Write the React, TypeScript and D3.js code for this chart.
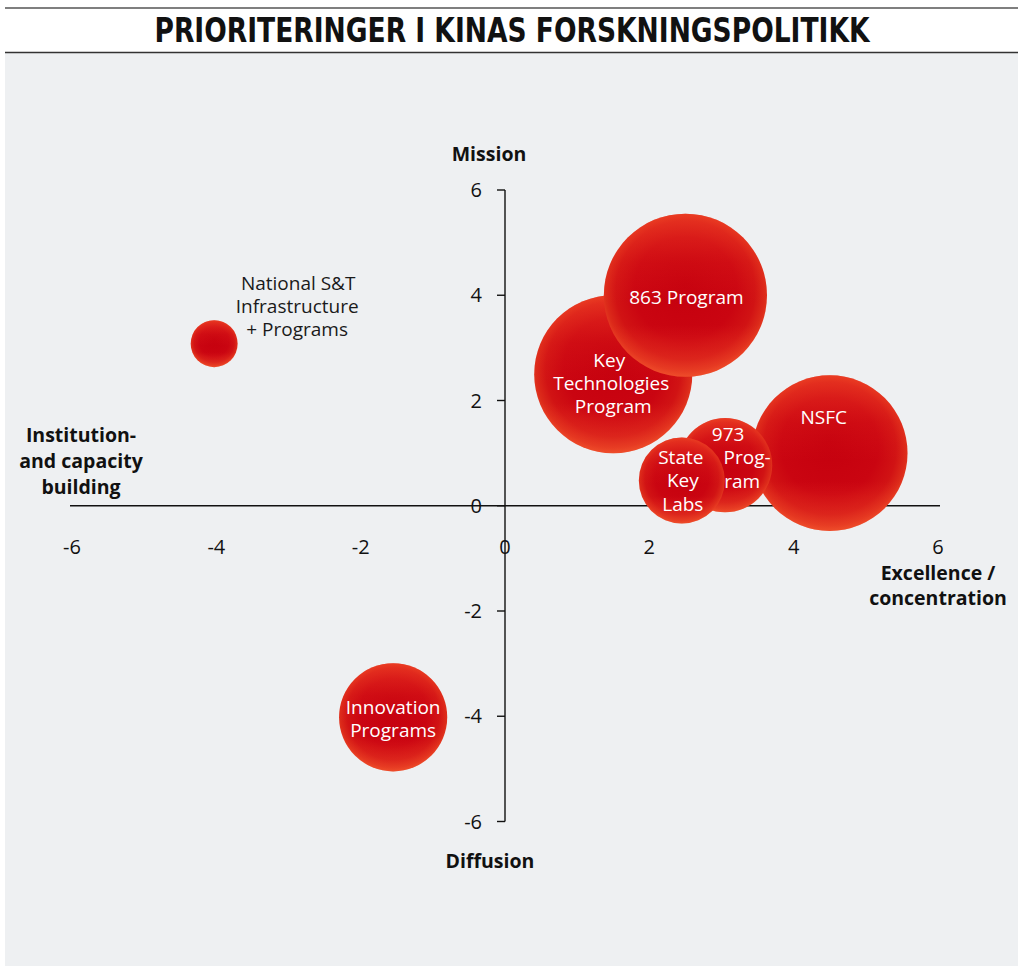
import React from "react";
import * as d3 from "d3";

const TITLE = "PRIORITERINGER I KINAS FORSKNINGSPOLITIKK";
const names = [
  "NSFC",
  "Key Technologies Program",
  "863 Program",
  "973 Program",
  "State Key Labs",
  "Innovation Programs",
  "National S&T Infrastructure + Programs",
];
const xValues = [4.5, 1.5, 2.5, 3.05, 2.45, -1.55, -4.03];
const yValues = [1.0, 2.5, 4.0, 0.77, 0.48, -4.02, 3.08];
const sizes = [90, 93, 99, 33, 27.5, 43.5, 8.2];
const xTicks = [-6, -4, -2, 0, 2, 4, 6];
const yTicks = [-6, -4, -2, 0, 2, 4, 6];

// label layout (lines, offsets from bubble center)
type Line = { t: string; dx: number; dy: number; anchor?: string };
const labelLayout: { lines: Line[]; color: string }[] = [
  { lines: [{ t: "NSFC", dx: -6, dy: -35 }], color: "#fff" },
  {
    lines: [
      { t: "Key", dx: -4, dy: -13 },
      { t: "Technologies", dx: -2, dy: 10 },
      { t: "Program", dx: 0, dy: 33 },
    ],
    color: "#fff",
  },
  { lines: [{ t: "863 Program", dx: 1, dy: 3 }], color: "#fff" },
  {
    lines: [
      { t: "973", dx: 3, dy: -30 },
      { t: "Prog-", dx: 22, dy: -7 },
      { t: "ram", dx: 17, dy: 17 },
    ],
    color: "#fff",
  },
  {
    lines: [
      { t: "State", dx: -1, dy: -22 },
      { t: "Key", dx: 1, dy: 1 },
      { t: "Labs", dx: 1, dy: 25 },
    ],
    color: "#fff",
  },
  {
    lines: [
      { t: "Innovation", dx: 0, dy: -9 },
      { t: "Programs", dx: 0, dy: 14 },
    ],
    color: "#fff",
  },
  {
    lines: [
      { t: "National S&T", dx: 84, dy: -60 },
      { t: "Infrastructure", dx: 83, dy: -37 },
      { t: "+ Programs", dx: 83, dy: -14 },
    ],
    color: "#1a1a1a",
  },
];

const W = 1024;
const H = 975;
const FONT = "'Open Sans', 'DejaVu Sans', sans-serif";

export default function App() {
  const x = d3.scaleLinear().domain([-6, 6]).range([72, 938]);
  const y = d3.scaleLinear().domain([-6, 6]).range([821.5, 190]);
  const r = d3.scaleSqrt().domain([0, 100]).range([0, 82]);

  const idx = d3.range(names.length);

  return (
    <svg
      width={W}
      height={H}
      viewBox={`0 0 ${W} ${H}`}
      style={{ position: "absolute", left: 0, top: 0, background: "#fff" }}
    >
      <defs>
        <radialGradient id="ball" cx="50%" cy="48%" r="52%" fx="50%" fy="42%">
          <stop offset="0%" stopColor="#c5000e" />
          <stop offset="60%" stopColor="#ca0511" />
          <stop offset="82%" stopColor="#d11314" />
          <stop offset="94%" stopColor="#dc2a1a" />
          <stop offset="100%" stopColor="#e63e22" />
        </radialGradient>
        <linearGradient id="shine" x1="0" y1="0" x2="0" y2="1">
          <stop offset="0%" stopColor="#ff5a30" stopOpacity={0.45} />
          <stop offset="30%" stopColor="#ff4a2a" stopOpacity={0.12} />
          <stop offset="55%" stopColor="#ff4030" stopOpacity={0} />
          <stop offset="68%" stopColor="#ff4030" stopOpacity={0} />
          <stop offset="78%" stopColor="#ff5030" stopOpacity={0.14} />
          <stop offset="100%" stopColor="#ff6a3a" stopOpacity={0.35} />
        </linearGradient>
      </defs>

      {/* background panel */}
      <rect x={5} y={53} width={1013} height={913} fill="#eef0f2" />
      <line x1={5} x2={1018} y1={8} y2={8} stroke="#555" strokeWidth={1.5} />
      <line x1={5} x2={1018} y1={52.5} y2={52.5} stroke="#333" strokeWidth={1.5} />
      <text
        x={512}
        y={42}
        textAnchor="middle"
        fontFamily="'Liberation Sans Narrow', 'DejaVu Sans Condensed', sans-serif"
        fontWeight="bold"
        fontSize={33}
        textLength={715}
        lengthAdjust="spacingAndGlyphs"
        fill="#111"
      >
        {TITLE}
      </text>

      {/* axes */}
      <line x1={70} x2={940} y1={y(0)} y2={y(0)} stroke="#111" strokeWidth={1.4} />
      <line x1={x(0)} x2={x(0)} y1={y(6)} y2={y(-6)} stroke="#111" strokeWidth={1.4} />
      {yTicks.map((t) => (
        <g key={"yt" + t}>
          <line x1={x(0) - 8} x2={x(0)} y1={y(t)} y2={y(t)} stroke="#111" strokeWidth={1.4} />
          <text
            x={x(0) - 23}
            y={y(t) + 7}
            textAnchor="end"
            fontFamily={FONT}
            fontSize={20}
            fill="#111"
          >
            {t}
          </text>
        </g>
      ))}
      {xTicks.map((t) => (
        <text
          key={"xt" + t}
          x={x(t)}
          y={554}
          textAnchor="middle"
          fontFamily={FONT}
          fontSize={20}
          fill="#111"
        >
          {t}
        </text>
      ))}

      {/* axis titles */}
      <g fontFamily={FONT} fontWeight="bold" fontSize={19.5} fill="#111" textAnchor="middle">
        <text x={489} y={161}>Mission</text>
        <text x={490} y={868}>Diffusion</text>
        <text x={938} y={580}>Excellence /</text>
        <text x={938} y={605}>concentration</text>
        <text x={81} y={442}>Institution-</text>
        <text x={81} y={468}>and capacity</text>
        <text x={81} y={494}>building</text>
      </g>

      {/* bubbles */}
      {idx.map((i) => (
        <g key={"b" + i}>
          <circle cx={x(xValues[i])} cy={y(yValues[i])} r={r(sizes[i])} fill="url(#ball)" />
          <circle cx={x(xValues[i])} cy={y(yValues[i])} r={r(sizes[i])} fill="url(#shine)" />
        </g>
      ))}

      {/* labels */}
      {idx.map((i) => (
        <g key={"l" + i} fontFamily={FONT} fontSize={19} fill={labelLayout[i].color}>
          {labelLayout[i].lines.map((ln, k) => (
            <text
              key={k}
              x={x(xValues[i]) + ln.dx}
              y={y(yValues[i]) + ln.dy + 6}
              textAnchor={ln.anchor || "middle"}
            >
              {ln.t}
            </text>
          ))}
        </g>
      ))}
    </svg>
  );
}
